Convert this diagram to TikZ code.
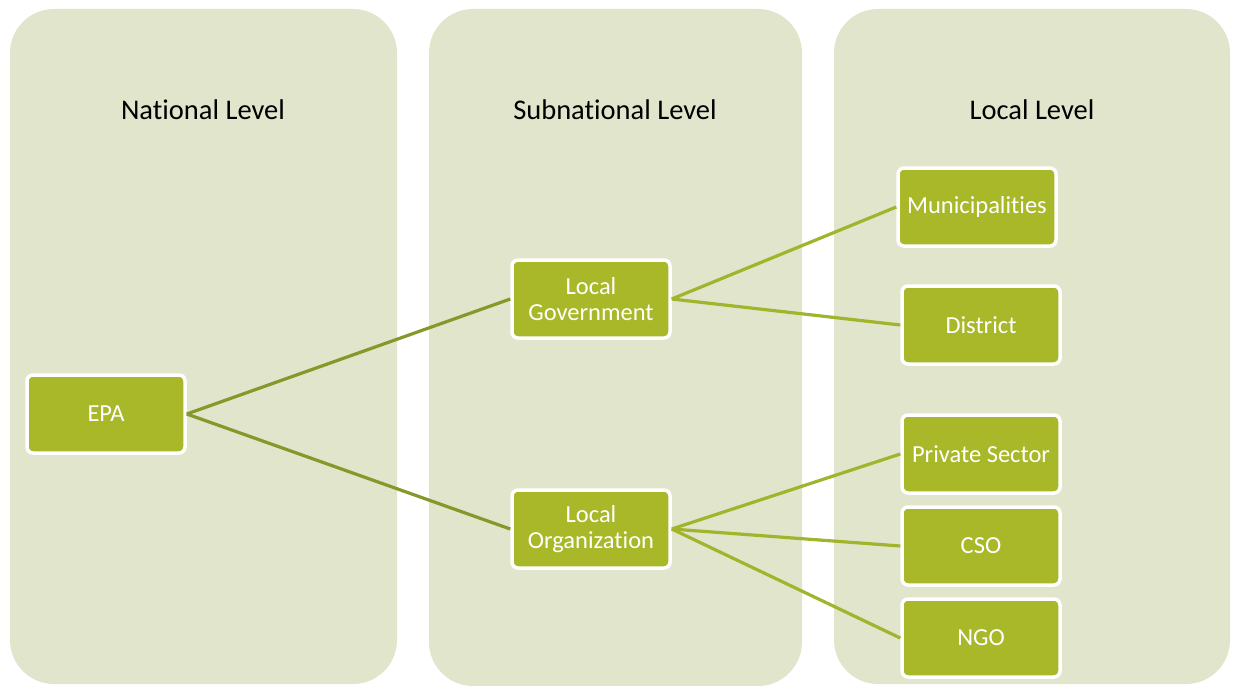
\documentclass[tikz,border=0pt]{standalone}
\usepackage{fontspec}
\setmainfont[Ligatures={NoCommon}]{Carlito}
\usepackage{xcolor}
\usepackage{tikz}

\definecolor{panelbg}{HTML}{E1E5CC}
\definecolor{boxgreen}{HTML}{A8B828}
\definecolor{linkdark}{HTML}{86982A}
\definecolor{linklight}{HTML}{A2B42C}

\tikzset{
    panel/.style={fill=panelbg, rounded corners=44pt},
    level/.style={font=\fontsize{28.5}{32}\selectfont, text=black},
    unit/.style={draw=white, line width=3.5pt, fill=boxgreen, rounded corners=6pt,
        minimum width=158pt, minimum height=78pt, align=center, text=white,
        font=\fontsize{24.5}{26}\selectfont, inner sep=2pt},
    link/.style={line width=3.2pt, linklight},
}

\begin{document}
\begin{tikzpicture}[x=1pt, y=-1pt]
        \useasboundingbox (0,0) rectangle (1233,685);

        % Panels
        \fill[panel] (10,9) rectangle (397,684);
        \fill[panel] (429,9) rectangle (802,686);
        \fill[panel] (834,9) rectangle (1230,684);

        % Level titles
        \node[level] (national) at (203,110) {National Level};
        \node[level] (subnational) at (615,110) {Subnational Level};
        \node[level] (local) at (1032,110) {Local Level};

        % Boxes
        \node[unit] (epa) at (106,414) {EPA};
        \node[unit] (gov) at (591,299) {Local\\Government};
        \node[unit] (org) at (591,529) {Local\\Organization};
        \node[unit] (mun) at (977,207) {Municipalities};
        \node[unit] (dist) at (981,325) {District};
        \node[unit] (priv) at (981,454) {Private Sector};
        \node[unit] (cso) at (981,546) {CSO};
        \node[unit] (ngo) at (981,638) {NGO};

        % Links
        \draw[link, linkdark] (epa.east) -- (gov.west);
        \draw[link, linkdark] (epa.east) -- (org.west);
        \draw[link] (gov.east) -- (mun.west);
        \draw[link] (gov.east) -- (dist.west);
        \draw[link] (org.east) -- (priv.west);
        \draw[link] (org.east) -- (cso.west);
        \draw[link] (org.east) -- (ngo.west);
    \end{tikzpicture}
\end{document}
